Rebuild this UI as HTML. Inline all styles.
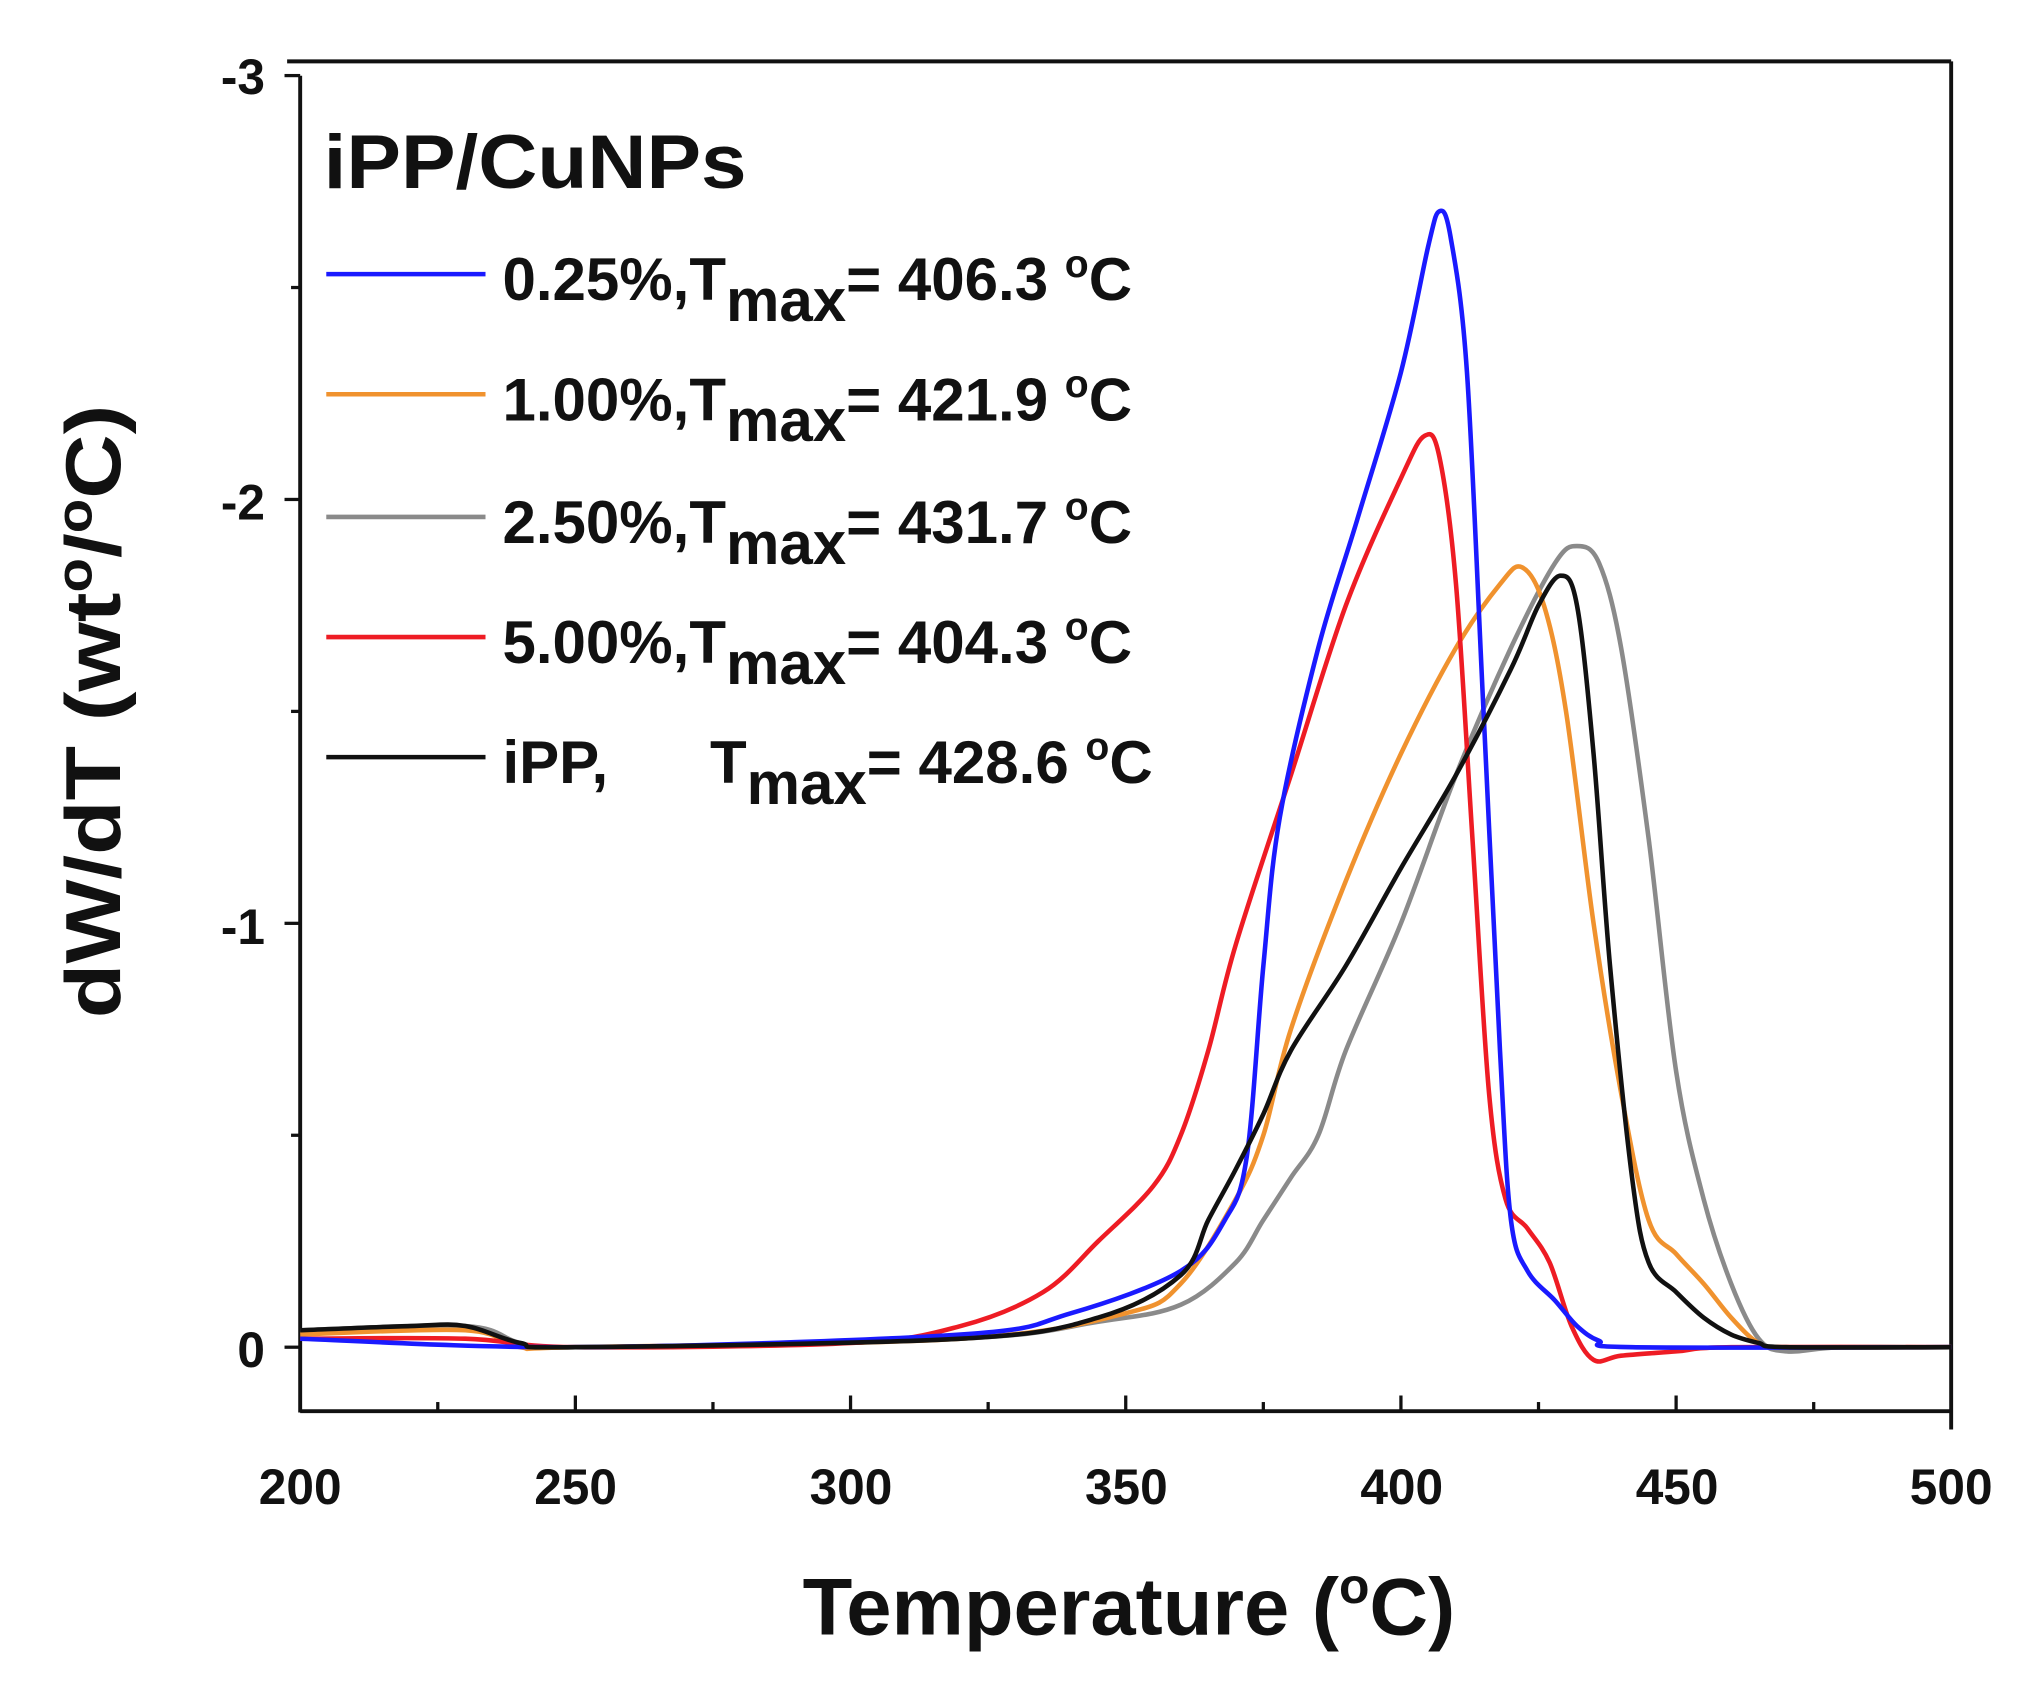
<!DOCTYPE html>
<html><head><meta charset="utf-8"><style>
html,body{margin:0;padding:0;background:#fff;}
svg{display:block;}
text{font-family:"Liberation Sans",Arial,sans-serif;font-weight:bold;fill:#111;}
</style></head><body>
<svg id="s" width="2036" height="1684" viewBox="0 0 1560 1290" preserveAspectRatio="none" xmlns="http://www.w3.org/2000/svg">
<rect width="1560" height="1290" fill="#fff"/>
<g stroke="#111" stroke-width="3" fill="none">
<line x1="220" y1="47" x2="1495" y2="47"/>
<line x1="1495" y1="47" x2="1495" y2="1095"/>
<line x1="230" y1="58" x2="230" y2="1082"/>
<line x1="230" y1="1081" x2="1495" y2="1081"/>
</g>
<g id="ticks" stroke="#111" stroke-width="2.5"></g>
<g font-size="38" text-anchor="end">
<text x="203" y="72">-3</text>
<text x="203" y="398">-2</text>
<text x="203" y="723">-1</text>
<text x="203" y="1047">0</text>
</g>
<g font-size="38" text-anchor="middle">
<text x="230" y="1152">200</text>
<text x="441" y="1152">250</text>
<text x="652" y="1152">300</text>
<text x="863" y="1152">350</text>
<text x="1074" y="1152">400</text>
<text x="1285" y="1152">450</text>
<text x="1495" y="1152">500</text>
</g>
<text x="865" y="1252" font-size="62" text-anchor="middle" textLength="500" lengthAdjust="spacingAndGlyphs">Temperature (<tspan font-size="38" dy="-24">o</tspan><tspan dy="24">C)</tspan></text>
<text transform="translate(92,545) rotate(-90)" font-size="60" text-anchor="middle" textLength="470" lengthAdjust="spacingAndGlyphs">dW/dT (wt<tspan font-size="38" dy="-22">o</tspan><tspan dy="22">/</tspan><tspan font-size="38" dy="-22">o</tspan><tspan dy="22">C)</tspan></text>
<text x="248" y="144" font-size="58" textLength="324" lengthAdjust="spacingAndGlyphs">iPP/CuNPs</text>
<g stroke-width="3.5" fill="none">
<line x1="250" y1="210" x2="372" y2="210" stroke="#1a1aff"/>
<line x1="250" y1="302" x2="372" y2="302" stroke="#f0922e"/>
<line x1="250" y1="396" x2="372" y2="396" stroke="#8a8a8a"/>
<line x1="250" y1="488" x2="372" y2="488" stroke="#ee1c24"/>
<line x1="250" y1="580" x2="372" y2="580" stroke="#111"/>
</g>
<g font-size="46">
<text x="385" y="230">0.25%,T<tspan dy="16">max</tspan><tspan dy="-16">= 406.3 </tspan><tspan font-size="30" dy="-18">o</tspan><tspan dy="18">C</tspan></text>
<text x="385" y="322">1.00%,T<tspan dy="16">max</tspan><tspan dy="-16">= 421.9 </tspan><tspan font-size="30" dy="-18">o</tspan><tspan dy="18">C</tspan></text>
<text x="385" y="416">2.50%,T<tspan dy="16">max</tspan><tspan dy="-16">= 431.7 </tspan><tspan font-size="30" dy="-18">o</tspan><tspan dy="18">C</tspan></text>
<text x="385" y="508">5.00%,T<tspan dy="16">max</tspan><tspan dy="-16">= 404.3 </tspan><tspan font-size="30" dy="-18">o</tspan><tspan dy="18">C</tspan></text>
<text x="385" y="600">iPP,</text>
<text x="544" y="600">T<tspan dy="16">max</tspan><tspan dy="-16">= 428.6 </tspan><tspan font-size="30" dy="-18">o</tspan><tspan dy="18">C</tspan></text>
</g>
<g id="curves" fill="none" stroke-width="3.5" stroke-linejoin="round"></g>
</svg>
<script>
var NS="http://www.w3.org/2000/svg";
function X(t){return 230+4.217*(t-200);}
function Y(v){return 1032-324.7*v;}
var tk=document.getElementById("ticks");
function ln(a,b,c,d){var l=document.createElementNS(NS,"line");l.setAttribute("x1",a);l.setAttribute("y1",b);l.setAttribute("x2",c);l.setAttribute("y2",d);tk.appendChild(l);}
for(var k=0;k<=6;k++){var v=k*0.5;var y=Y(v);var major=(k%2==0);ln(major?218:223,y,230,y);}
for(var t=200;t<=500;t+=25){var x=X(t);var major=(t%50==0);ln(x,1081,x,major?1069:1074);}
var data=[
["#8a8a8a",[[200,.04],[230,.05],[240,.01],[250,0],[320,.02],[345,.06],[360,.1],[370,.2],[375,.3],[380,.4],[385,.5],[390,.7],[400,1.0],[410,1.35],[420,1.65],[428,1.85],[432,1.89],[436,1.85],[440,1.65],[445,1.2],[450,.65],[455,.35],[460,.15],[465,.02],[470,-.01],[480,0],[500,0]]],
["#f0922e",[[200,.03],[230,.04],[240,0],[250,0],[320,.02],[350,.08],[360,.15],[370,.35],[375,.5],[380,.75],[390,1.1],[400,1.4],[410,1.65],[418,1.8],[422,1.84],[426,1.75],[430,1.5],[435,1.0],[440,.6],[445,.3],[450,.22],[455,.15],[460,.07],[465,.01],[470,0],[500,0]]],
["#ee1c24",[[200,.02],[230,.02],[250,0],[300,.01],[320,.05],[335,.13],[345,.25],[355,.38],[360,.5],[365,.7],[370,.95],[380,1.35],[390,1.75],[400,2.05],[404.3,2.15],[407,2.1],[410,1.8],[413,1.2],[416,.6],[419,.35],[423,.28],[427,.2],[431,.05],[435,-.03],[440,-.02],[450,-.01],[460,0],[500,0]]],
["#1a1aff",[[200,.02],[250,0],[320,.03],[340,.08],[360,.18],[368,.3],[372,.45],[375,.9],[378,1.25],[385,1.65],[392,1.95],[400,2.3],[405,2.6],[407,2.68],[409,2.62],[412,2.3],[415,1.5],[418,.7],[420,.3],[423,.18],[428,.11],[432,.05],[436,.015],[442,0],[500,0]]],
["#111",[[200,.04],[220,.05],[230,.05],[240,.01],[250,0],[320,.02],[345,.07],[360,.17],[365,.3],[370,.42],[375,.55],[380,.7],[390,.9],[400,1.13],[410,1.35],[420,1.6],[425,1.75],[429,1.82],[432,1.75],[435,1.4],[438,.9],[442,.4],[445,.2],[450,.13],[455,.07],[460,.03],[465,.01],[470,0],[500,0]]]
];
var g=document.getElementById("curves");
data.forEach(function(s){
 var p=s[1].map(function(q){return [X(q[0]),Y(q[1])];});
 var d="M"+p[0][0]+","+p[0][1];
 for(var i=0;i<p.length-1;i++){
  var p0=p[Math.max(0,i-1)],p1=p[i],p2=p[i+1],p3=p[Math.min(p.length-1,i+2)];
  var c1=[p1[0]+(p2[0]-p0[0])/6,p1[1]+(p2[1]-p0[1])/6];
  var c2=[p2[0]-(p3[0]-p1[0])/6,p2[1]-(p3[1]-p1[1])/6];
  d+="C"+c1[0].toFixed(1)+","+c1[1].toFixed(1)+" "+c2[0].toFixed(1)+","+c2[1].toFixed(1)+" "+p2[0].toFixed(1)+","+p2[1].toFixed(1);
 }
 var e=document.createElementNS(NS,"path");e.setAttribute("d",d);e.setAttribute("stroke",s[0]);g.appendChild(e);
});
</script>
</body></html>
